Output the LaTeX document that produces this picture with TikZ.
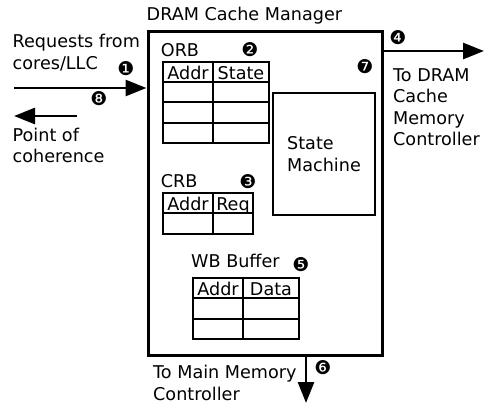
\documentclass[tikz,border=0pt]{standalone}
\usepackage{fontspec}
\setmainfont{DejaVu Sans}
\usetikzlibrary{positioning, arrows.meta}

\begin{document}
\begin{tikzpicture}[x=1pt, y=-1pt, font=\fontsize{17.6}{21.5}\selectfont,
  big/.style={-{Triangle[length=21pt, width=16pt]}, line width=2.6pt},
  badge/.style={font=\fontsize{19}{19}\selectfont, inner sep=0pt},
  lbl/.style={align=left, inner sep=0pt, anchor=base west},
  tbl/.style={line width=1.4pt},
  head/.style={inner sep=0pt, anchor=base}]
  \useasboundingbox (0,0) rectangle (485,407);
  % the manager block
  \node[draw, line width=3pt, minimum width=234pt, minimum height=324pt, inner sep=0pt] (mgr) at (265,193) {};
  \node[lbl] (title) at (146.5,20) {DRAM Cache Manager};
  \node[draw, line width=1.6pt, minimum width=102pt, minimum height=122pt, align=left] (fsm) at (324,154) {State\\Machine};

  % ORB
  \node[lbl] (orb) at (160.7,56) {ORB};
  \draw[tbl] (163,62) rectangle (269,143);
  \draw[tbl] (213,62) -- (213,143);
  \foreach \y in {82,102,123}
    \draw[tbl] (163,\y) -- (269,\y);
  \node[head] (orbaddr) at (188,79.5) {Addr};
  \node[head] (orbstate) at (241,79.5) {State};

  % CRB
  \node[lbl] (crb) at (160.7,187) {CRB};
  \draw[tbl] (163,193) rectangle (253,234);
  \draw[tbl] (213,193) -- (213,234);
  \draw[tbl] (163,213) -- (253,213);
  \node[head] (crbaddr) at (188,210.5) {Addr};
  \node[head] (crbreq) at (233,210.5) {Req};

  % WB buffer
  \node[lbl] (wb) at (191,267) {WB Buffer};
  \draw[tbl] (193,278) rectangle (299,339);
  \draw[tbl] (243,278) -- (243,339);
  \foreach \y in {298,319}
    \draw[tbl] (193,\y) -- (299,\y);
  \node[head] (wbaddr) at (218,295.5) {Addr};
  \node[head] (wbdata) at (271,295.5) {Data};

  % outside links
  \coordinate (req) at (14,88);
  \coordinate (poc) at (14,116);
  \coordinate (pocfrom) at (77,116);
  \coordinate (dram) at (484,51);
  \coordinate (mem) at (306,403);
  \draw[big] (req) -- (req -| mgr.west);
  \draw[big] (pocfrom) -- (poc);
  \draw[big] (dram -| mgr.east) -- (dram);
  \draw[big] (mem |- mgr.south) -- (mem);
  % base of a two-line node is its last line
  \node[lbl] (reqtext) at (12.5,69) {Requests from\\cores/LLC};
  \node[lbl] (poctext) at (12.5,162.5) {Point of\\coherence};
  \node[lbl] (dramtext) at (393,145.5) {To DRAM\\Cache\\Memory\\Controller};
  \node[lbl] (memtext) at (153,400) {To Main Memory\\Controller};

  % step numbers
  \node[badge] (b1) at (126,69) {❶};
  \node[badge] (b2) at (250,50) {❷};
  \node[badge] (b3) at (248,182) {❸};
  \node[badge] (b4) at (398,38) {❹};
  \node[badge] (b5) at (301,265) {❺};
  \node[badge] (b6) at (323,368) {❻};
  \node[badge] (b7) at (365,67) {❼};
  \node[badge] (b8) at (99,99) {❽};
\end{tikzpicture}
\end{document}
